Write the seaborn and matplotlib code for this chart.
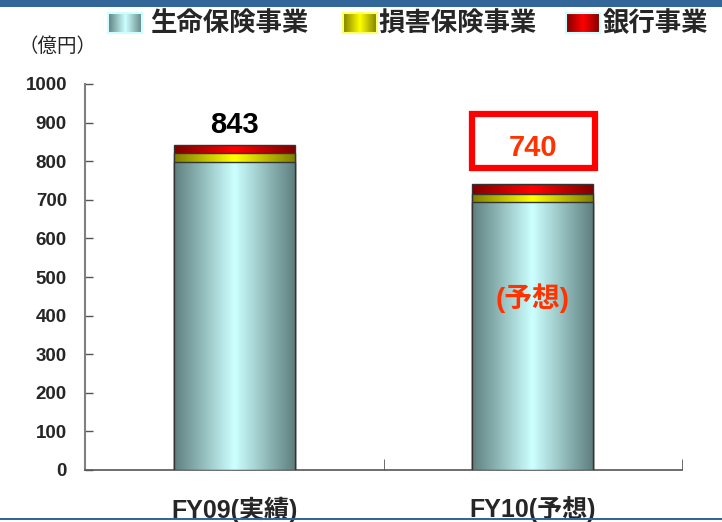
import numpy as np
import matplotlib
matplotlib.use('Agg')
import matplotlib.pyplot as plt
from matplotlib.colors import LinearSegmentedColormap
from matplotlib.patches import Rectangle
import seaborn as sns

# data (億円)
categories = ['FY09(実績)', 'FY10(予想)']
series_names = ['生命保険事業', '損害保険事業', '銀行事業']
life = [797, 694]
nonlife = [24, 22]
bank = [22, 24]
totals = [843, 740]
yticks = [0, 100, 200, 300, 400, 500, 600, 700, 800, 900, 1000]

# edge / centre colours of the horizontal gradients
grad_colors = {
    '生命保険事業': ('#5f7f7f', '#ccffff'),
    '損害保険事業': ('#7f7f00', '#ffff00'),
    '銀行事業': ('#7f0000', '#ff0000'),
}

sns.set_style('white')
plt.rcParams['font.family'] = ['Liberation Sans', 'Noto Sans CJK JP', 'DejaVu Sans']

fig = plt.figure(figsize=(7.22, 5.22), dpi=100)
ax = fig.add_axes([85 / 722, 52 / 522, 597 / 722, 386 / 522])

ramp = (1 - np.abs(np.linspace(-1, 1, 256))).reshape(1, -1)


def grad_cmap(name):
    return LinearSegmentedColormap.from_list(name, list(grad_colors[name]))


cum1 = life
cum2 = [a + b for a, b in zip(life, nonlife)]
cum3 = [a + b for a, b in zip(cum2, bank)]
layers = [('銀行事業', cum3, 3), ('損害保険事業', cum2, 5), ('生命保険事業', cum1, 7)]

for name, vals, z in layers:
    n0 = len(ax.patches)
    sns.barplot(x=categories, y=vals, width=0.405, ax=ax, zorder=z,
                edgecolor='#333333', linewidth=1.0)
    cmap = grad_cmap(name)
    for p in ax.patches[n0:]:
        p.set_facecolor('none')
        x0, y0 = p.get_x(), p.get_y()
        w, h = p.get_width(), p.get_height()
        im = ax.imshow(ramp, cmap=cmap, aspect='auto', extent=(x0, x0 + w, y0, y0 + h),
                       zorder=z - 0.1, interpolation='bicubic')
        im.set_clip_path(p)

ax.set_xlim(-0.5, 1.5)
ax.set_ylim(0, 1000)
ax.set_yticks(yticks)
ax.set_yticklabels([str(v) for v in yticks], fontsize=13.5, fontweight='bold')
ax.set_xticks([0, 1])
ax.set_xticklabels(categories, fontsize=18, fontweight='bold')
ax.tick_params(axis='x', length=0, pad=19)
ax.tick_params(axis='y', direction='in', length=6, width=1, color='#555555', pad=13, left=True)
# category separators on the x axis
ax.set_xticks([0.5, 1.5], minor=True)
ax.tick_params(axis='x', which='minor', direction='in', length=8, color='#555555', bottom=True)

for side in ['top', 'right']:
    ax.spines[side].set_visible(False)
ax.spines['left'].set_color('#808080')
ax.spines['left'].set_linewidth(1.5)
ax.spines['bottom'].set_color('#555555')
ax.spines['bottom'].set_linewidth(1.2)
ax.set_xlabel('')
ax.set_ylabel('')

# annotations
ax.text(0, totals[0] + 52, str(totals[0]), ha='center', va='center', fontsize=21, fontweight='bold', color='black')
ax.text(1, 843 - 10, str(totals[1]), ha='center', va='center', fontsize=21, fontweight='bold', color='#ff3300')
fig.patches.append(Rectangle((472 / 722, 1 - 168 / 522), 123 / 722, 54 / 522, transform=fig.transFigure,
                             fill=False, edgecolor='#ff0000', linewidth=4.5))
ax.text(1, 445, '(予想)', ha='center', va='center', fontsize=20, fontweight='bold', color='#ff3300', zorder=10)

fig.text(18 / 722, 1 - 47 / 522, '（億円）', ha='left', va='center', fontsize=14)

# legend with gradient swatches
legend_items = [(108, 150), (343, 378), (566, 603)]
for name, (sx, tx) in zip(series_names, legend_items):
    sax = fig.add_axes([sx / 722, 1 - 33 / 522, 34 / 722, 20 / 522])
    sax.imshow(ramp, cmap=grad_cmap(name), aspect='auto')
    sax.set_xticks([])
    sax.set_yticks([])
    for s in sax.spines.values():
        s.set_color('#ccffff' if name != '損害保険事業' else '#ffff66')
        s.set_linewidth(1.5)
    fig.text(tx / 722, 1 - 23 / 522, name, ha='left', va='center', fontsize=19, fontweight='bold')

# top band and bottom line
fig.patches.append(Rectangle((0, 1 - 7 / 522), 1, 7 / 522, transform=fig.transFigure,
                             facecolor='#336699', edgecolor='none'))
fig.patches.append(Rectangle((0, 2 / 522), 1, 2 / 522, transform=fig.transFigure,
                             facecolor='#336699', edgecolor='none', zorder=10))

fig.savefig('out.png', dpi=100)
